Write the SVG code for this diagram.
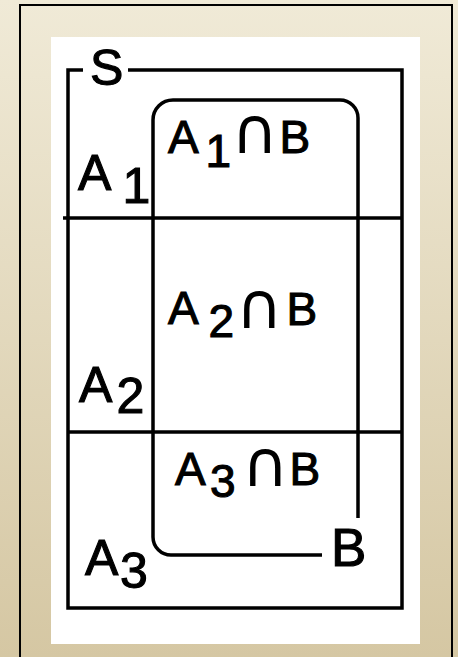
<svg xmlns="http://www.w3.org/2000/svg" width="458" height="657" viewBox="0 0 458 657">
<defs>
<linearGradient id="bg" x1="0" y1="0" x2="0" y2="1">
<stop offset="0" stop-color="#f0ead7"/>
<stop offset="1" stop-color="#d5c7a3"/>
</linearGradient>
<style>
.ln{fill:none;stroke:#000;stroke-width:3.5;stroke-linecap:butt}
.t{font-family:"Liberation Sans",Arial,sans-serif;fill:#000;stroke:#000;stroke-width:1.1}
.big{font-size:50px}
.mid{font-size:46px}
.cap{font-family:"DejaVu Sans",sans-serif;font-size:64px;stroke:none}
</style>
</defs>
<rect width="458" height="657" fill="url(#bg)"/>
<rect x="20" y="5" width="432" height="670" fill="none" stroke="#000" stroke-width="2"/>
<rect x="51" y="37" width="369" height="607" fill="#fff"/>
<g id="S">
<path class="ln" d="M83 70 H68 V608 H402 V70 H128"/>
<text class="t big" x="90" y="85">S</text>
</g>
<g id="connectors">
<path class="ln" d="M63 218 H402"/>
<path class="ln" d="M68 432 H402"/>
</g>
<g id="B">
<path class="ln" d="M358 518 V118 A18 18 0 0 0 340 100 H173 A20 20 0 0 0 153 120 V537 A18 18 0 0 0 171 555 H322"/>
<text class="t" x="331" y="566" style="font-size:53px">B</text>
</g>
<g id="A1">
<text class="t big"><tspan x="78" y="190">A</tspan><tspan x="122.5" y="203">1</tspan></text>
</g>
<g id="A2">
<text class="t big"><tspan x="79" y="402">A</tspan><tspan x="116.5" y="413">2</tspan></text>
</g>
<g id="A3">
<text class="t big"><tspan x="85" y="575">A</tspan><tspan x="120" y="588">3</tspan></text>
</g>
<g id="A1B">
<text class="t mid"><tspan x="168" y="153">A</tspan><tspan x="205.5" y="167">1</tspan><tspan class="cap" x="231.5" y="153">∩</tspan><tspan x="279.6" y="153">B</tspan></text>
</g>
<g id="A2B">
<text class="t mid"><tspan x="168" y="324">A</tspan><tspan x="208.6" y="337">2</tspan><tspan class="cap" x="236" y="328">∩</tspan><tspan x="286.6" y="325">B</tspan></text>
</g>
<g id="A3B">
<text class="t mid"><tspan x="175" y="485">A</tspan><tspan x="210" y="497">3</tspan><tspan class="cap" x="242" y="486">∩</tspan><tspan x="289.6" y="485">B</tspan></text>
</g>
</svg>
